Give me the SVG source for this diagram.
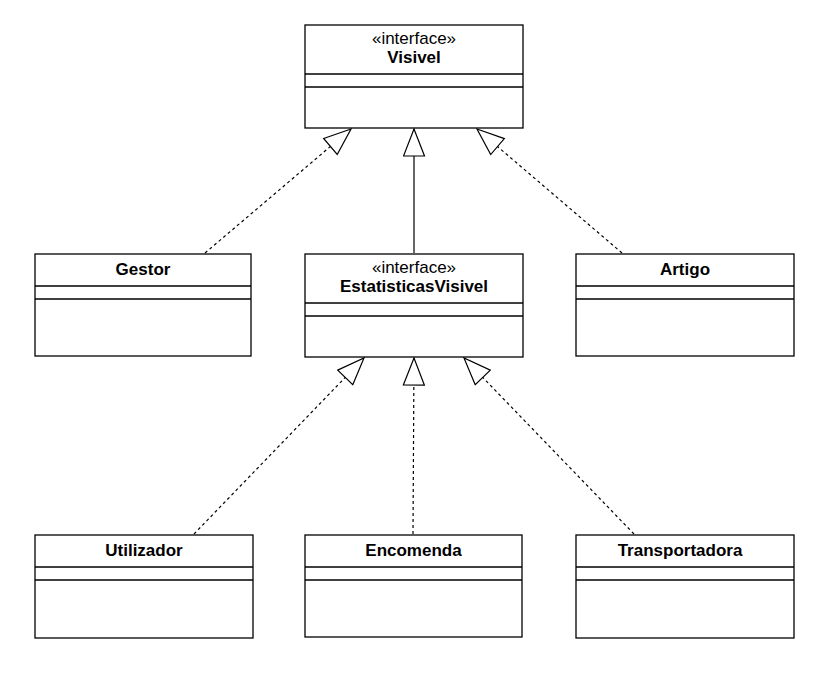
<svg xmlns="http://www.w3.org/2000/svg" width="831" height="677" viewBox="0 0 831 677">
<defs>
<style>
.box{fill:#fff;stroke:#000;stroke-width:1.3}
.sep{stroke:#000;stroke-width:1.3}
.t{font-family:"Liberation Sans",Arial,Helvetica,sans-serif;font-size:17px;text-anchor:middle;fill:#000}
.b{font-weight:bold}
.edge{fill:none;stroke:#000;stroke-width:1.2}
.dash{stroke-dasharray:3 3}
</style>
<marker id="tri" viewBox="0 0 29 23" refX="28" refY="11.5" markerWidth="29" markerHeight="23" markerUnits="userSpaceOnUse" orient="auto">
<path d="M1,1 L28,11.5 L1,22 Z" fill="#fff" stroke="#000" stroke-width="1.2"/>
</marker>
</defs>
<rect width="831" height="677" fill="#fff"/>
<g id="connectors">
<path class="edge dash" d="M205,253 L351,129" marker-end="url(#tri)"/>
<path class="edge" d="M414,253 L414,129" marker-end="url(#tri)"/>
<path class="edge dash" d="M622,253 L477,129" marker-end="url(#tri)"/>
<path class="edge dash" d="M194,534 L364,358" marker-end="url(#tri)"/>
<path class="edge dash" d="M413,534 L414,358" marker-end="url(#tri)"/>
<path class="edge dash" d="M634,534 L464,358" marker-end="url(#tri)"/>
</g>
<g id="visivel">
<rect class="box" x="305" y="25" width="218" height="103"/>
<line class="sep" x1="305" y1="74" x2="523" y2="74"/>
<line class="sep" x1="305" y1="87" x2="523" y2="87"/>
<text class="t" x="414" y="44">«interface»</text>
<text class="t b" x="414" y="63">Visivel</text>
</g>
<g id="estatisticasVisivel">
<rect class="box" x="305" y="254" width="218" height="103"/>
<line class="sep" x1="305" y1="303" x2="523" y2="303"/>
<line class="sep" x1="305" y1="316" x2="523" y2="316"/>
<text class="t" x="414" y="273">«interface»</text>
<text class="t b" x="414" y="292">EstatisticasVisivel</text>
</g>
<g id="gestor">
<rect class="box" x="35" y="254" width="216" height="102"/>
<line class="sep" x1="35" y1="286" x2="251" y2="286"/>
<line class="sep" x1="35" y1="299" x2="251" y2="299"/>
<text class="t b" x="143" y="275">Gestor</text>
</g>
<g id="artigo">
<rect class="box" x="576" y="254" width="218" height="102"/>
<line class="sep" x1="576" y1="286" x2="794" y2="286"/>
<line class="sep" x1="576" y1="299" x2="794" y2="299"/>
<text class="t b" x="685" y="275">Artigo</text>
</g>
<g id="utilizador">
<rect class="box" x="35" y="535" width="218" height="103"/>
<line class="sep" x1="35" y1="567" x2="253" y2="567"/>
<line class="sep" x1="35" y1="580" x2="253" y2="580"/>
<text class="t b" x="144" y="556">Utilizador</text>
</g>
<g id="encomenda">
<rect class="box" x="305" y="535" width="217" height="102"/>
<line class="sep" x1="305" y1="567" x2="522" y2="567"/>
<line class="sep" x1="305" y1="580" x2="522" y2="580"/>
<text class="t b" x="413.5" y="556">Encomenda</text>
</g>
<g id="transportadora">
<rect class="box" x="576" y="535" width="218" height="103"/>
<line class="sep" x1="576" y1="567" x2="794" y2="567"/>
<line class="sep" x1="576" y1="580" x2="794" y2="580"/>
<text class="t b" x="680" y="556">Transportadora</text>
</g>
</svg>
